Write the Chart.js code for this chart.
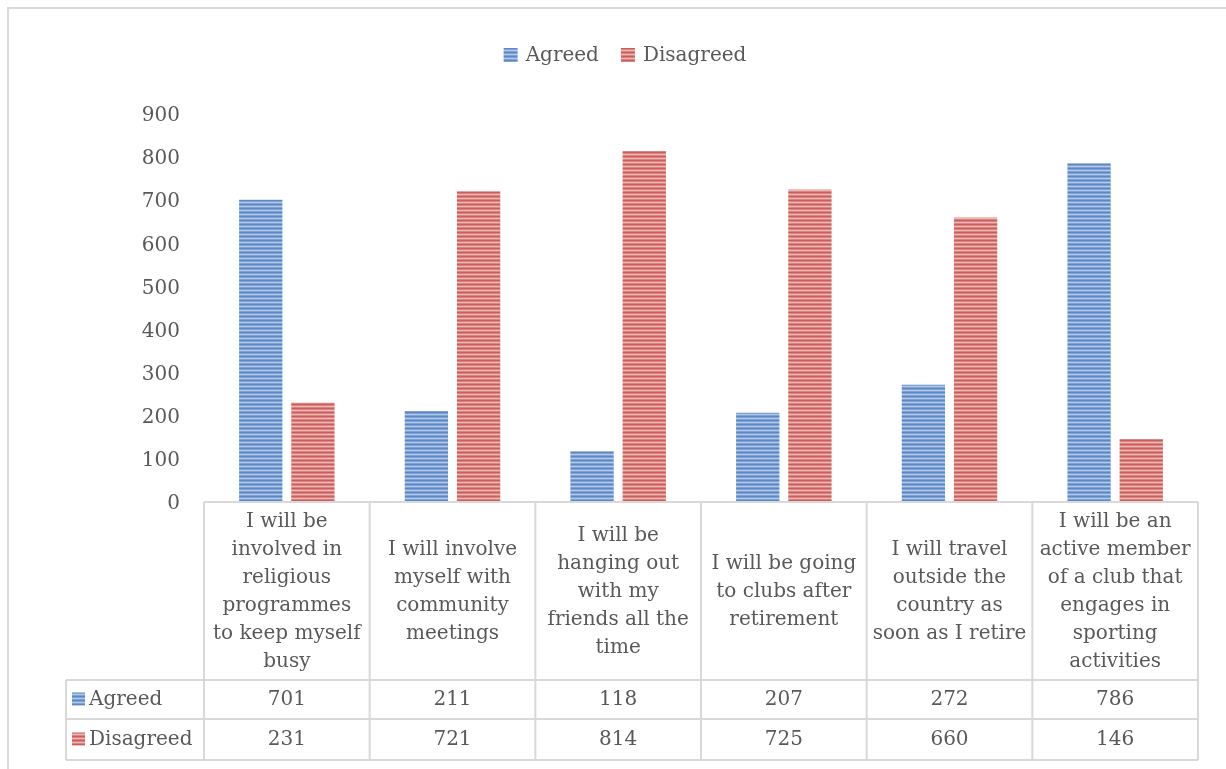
<!DOCTYPE html>
<html>
<head>
<meta charset="utf-8">
<script src="https://cdn.jsdelivr.net/npm/chart.js@4.4.0/dist/chart.umd.min.js"></script>
<style>
  html, body { margin: 0; padding: 0; background: #fff; }
  #wrap { width: 1226px; height: 769px; position: relative; }
</style>
</head>
<body>
<div id="wrap"><canvas id="barChart"></canvas></div>
<script>
// ==========================
// DATA
// ==========================
const categories = [
  ["I will be", "involved in", "religious", "programmes", "to keep myself", "busy"],
  ["I will involve", "myself with", "community", "meetings"],
  ["I will be", "hanging out", "with my", "friends all the", "time"],
  ["I will be going", "to clubs after", "retirement"],
  ["I will travel", "outside the", "country as", "soon as I retire"],
  ["I will be an", "active member", "of a club that", "engages in", "sporting", "activities"]
];
const seriesNames = ["Agreed", "Disagreed"];
const agreed = [701, 211, 118, 207, 272, 786];
const disagreed = [231, 721, 814, 725, 660, 146];
const yTicks = [0, 100, 200, 300, 400, 500, 600, 700, 800, 900];

const FONT = '20px "DejaVu Serif"';
const TEXT = "#595959";
const LINE = "#d9d9d9";

// ==========================
// STRIPED FILL (horizontal lines)
// ==========================
function stripes(colors) {
  const c = document.createElement("canvas");
  c.width = 8;
  c.height = colors.length;
  const g = c.getContext("2d");
  colors.forEach((col, i) => {
    g.fillStyle = col;
    g.fillRect(0, i, 8, 1);
  });
  return g.createPattern(c, "repeat");
}
const bluePat = stripes(["#5c88c6", "#7fa2d4", "#b3c8e7", "#7fa2d4"]);
const redPat = stripes(["#cd5d5a", "#da8481", "#ecb8b6", "#da8481"]);
const fills = [bluePat, redPat];

// ==========================
// TABLE + LEGEND + FRAME
// ==========================
const tablePlugin = {
  id: "dataTable",
  afterDraw(chart) {
    const { ctx, chartArea, scales } = chart;
    const x = scales.x;
    const n = categories.length;
    const colW = (chartArea.right - chartArea.left) / n;
    const top = chartArea.bottom;
    const headBottom = 680;
    const rowH = [headBottom, 719, 760];
    const labelLeft = 66;

    ctx.save();

    // frame around the whole chart
    ctx.strokeStyle = LINE;
    ctx.lineWidth = 2;
    ctx.beginPath();
    ctx.moveTo(8, 780);
    ctx.lineTo(8, 8);
    ctx.lineTo(1226, 8);
    ctx.stroke();

    // grid lines
    ctx.beginPath();
    ctx.moveTo(chartArea.left, top);
    ctx.lineTo(chartArea.right, top);
    rowH.forEach(y => {
      ctx.moveTo(labelLeft, y);
      ctx.lineTo(chartArea.right, y);
    });
    for (let i = 0; i <= n; i++) {
      const px = i < n ? x.getPixelForValue(i) - colW / 2 : x.getPixelForValue(n - 1) + colW / 2;
      ctx.moveTo(px, top);
      ctx.lineTo(px, rowH[2]);
    }
    ctx.moveTo(labelLeft, headBottom);
    ctx.lineTo(labelLeft, rowH[2]);
    ctx.stroke();

    // header text
    ctx.font = FONT;
    ctx.fillStyle = TEXT;
    ctx.textAlign = "center";
    ctx.textBaseline = "middle";
    const lh = 28;
    const mid = (top + headBottom) / 2 + 1;
    categories.forEach((lines, i) => {
      const cx = x.getPixelForValue(i);
      const y0 = mid - (lines.length - 1) * lh / 2;
      lines.forEach((t, j) => ctx.fillText(t, cx, y0 + j * lh));
    });

    // value rows
    const rows = [agreed, disagreed];
    rows.forEach((vals, r) => {
      const yc = (rowH[r] + rowH[r + 1]) / 2;
      ctx.textAlign = "center";
      vals.forEach((v, i) => ctx.fillText(String(v), x.getPixelForValue(i), yc));
      ctx.fillStyle = fills[r];
      ctx.fillRect(72, yc - 7, 13, 13);
      ctx.fillStyle = TEXT;
      ctx.textAlign = "left";
      ctx.fillText(seriesNames[r], 89, yc);
    });

    // legend on top
    const box = 14, gapBox = 8, gapItem = 22;
    const widths = seriesNames.map(s => ctx.measureText(s).width);
    const total = widths.reduce((a, w) => a + box + gapBox + w, 0) + gapItem;
    let lx = 625 - total / 2;
    const ly = 55;
    seriesNames.forEach((s, i) => {
      ctx.fillStyle = fills[i];
      ctx.fillRect(lx, ly - 7, box, box);
      ctx.fillStyle = TEXT;
      ctx.textAlign = "left";
      ctx.fillText(s, lx + box + gapBox, ly + 1);
      lx += box + gapBox + widths[i] + gapItem;
    });

    ctx.restore();
  }
};

// ==========================
// CHART
// ==========================
const ctx = document.getElementById("barChart").getContext("2d");
const chart = new Chart(ctx, {
  type: "bar",
  data: {
    labels: categories.map(c => c.join(" ")),
    datasets: [
      { label: seriesNames[0], data: agreed, backgroundColor: bluePat },
      { label: seriesNames[1], data: disagreed, backgroundColor: redPat }
    ]
  },
  options: {
    responsive: true,
    maintainAspectRatio: false,
    animation: false,
    devicePixelRatio: 1,
    categoryPercentage: 0.63,
    barPercentage: 0.83,
    layout: { padding: { top: 114, right: 28, bottom: 267, left: 0 } },
    plugins: {
      legend: { display: false },
      tooltip: { enabled: false }
    },
    scales: {
      x: { display: false },
      y: {
        min: 0,
        max: 900,
        afterFit: scale => { scale.width = 204; },
        afterBuildTicks: scale => { scale.ticks = yTicks.map(v => ({ value: v })); },
        border: { display: false },
        grid: { display: false, drawTicks: false },
        ticks: {
          padding: 24,
          labelOffset: 2,
          color: TEXT,
          font: { family: "DejaVu Serif", size: 20 }
        }
      }
    }
  },
  plugins: [tablePlugin]
});
</script>
</body>
</html>
